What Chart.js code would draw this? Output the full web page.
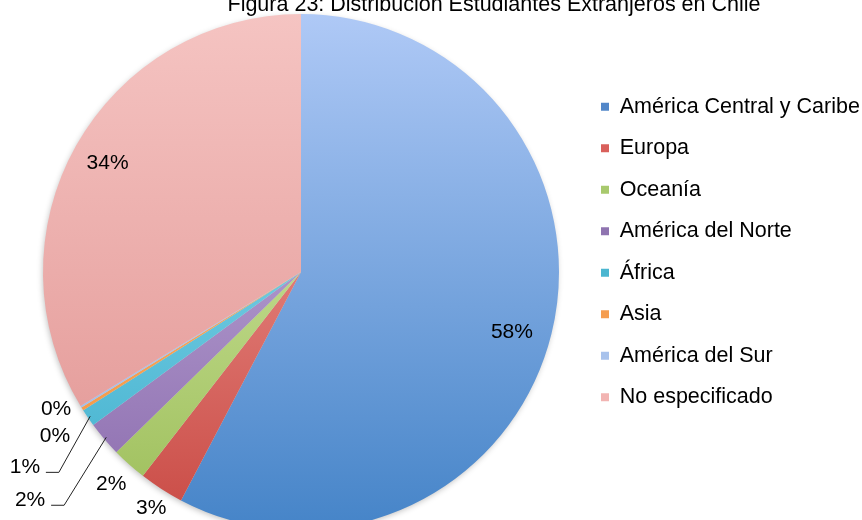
<!DOCTYPE html>
<html>
<head>
<meta charset="utf-8">
<script src="https://cdn.jsdelivr.net/npm/chart.js@4.4.0/dist/chart.umd.min.js"></script>
<style>
  html, body { margin: 0; padding: 0; background: #fff; overflow: hidden; }
  #wrap { width: 862px; height: 520px; position: relative; }
</style>
</head>
<body>
<div id="wrap"><canvas id="pieChart" width="862" height="520"></canvas></div>
<script>
const TITLE = "Figura 23: Distribución Estudiantes Extranjeros en Chile";

const regions = [
    "América Central y Caribe",
    "Europa",
    "Oceanía",
    "América del Norte",
    "África",
    "Asia",
    "América del Sur",
    "No especificado"
];
// porcentaje de estudiantes
const shares = [57.7, 2.8, 2.2, 2.2, 1.1, 0.2, 0.1, 33.7];

// degradado vertical: claro arriba, oscuro abajo
const topColors    = ["#afc9f6", "#f7aba6", "#def3b8", "#cdbde6", "#a0e3f3", "#fbc28a", "#c7dbf8", "#f5c4c2"];
const bottomColors = ["#4584c8", "#c94a44", "#9cbd58", "#8a6aac", "#3caecc", "#f39037", "#98b6e6", "#e19492"];
const legendColors = ["#5287c9", "#d9605b", "#a8c96d", "#8f74b0", "#4bb6d0", "#f59d4f", "#a8c2ec", "#f2b4b2"];

// ubicación de las etiquetas: radio relativo y giro (grados) sobre el ángulo medio
const labelRadius = [0.85, 1.085, 1.105, 1.373, 1.311, 1.088, 1.146, 0.86];
const labelShift  = [2, -0.4, 0, 0.2, -0.9, 2.8, -2.2, 0];
const withLeader  = [false, false, false, true, true, false, false, false];

const PIE_RADIUS = 258;
const FONT = '"Liberation Sans", Arial, Helvetica, sans-serif';

function sliceGradient(context) {
    const chart = context.chart;
    const area = chart.chartArea;
    const i = context.dataIndex;
    if (!area) return legendColors[i];
    const cy = (area.top + area.bottom) / 2;
    const g = chart.ctx.createLinearGradient(0, cy - PIE_RADIUS, 0, cy + PIE_RADIUS);
    g.addColorStop(0, topColors[i]);
    g.addColorStop(1, bottomColors[i]);
    return g;
}

const titlePlugin = {
    id: "cutTitle",
    afterDraw(chart) {
        const ctx = chart.ctx;
        ctx.save();
        ctx.font = "21.5px " + FONT;
        ctx.fillStyle = "#000";
        ctx.textAlign = "center";
        ctx.textBaseline = "alphabetic";
        ctx.fillText(TITLE, 494, 11);
        ctx.restore();
    }
};

const shadowPlugin = {
    id: "pieShadow",
    beforeDatasetsDraw(chart) {
        const arc = chart.getDatasetMeta(0).data[0];
        if (!arc) return;
        const ctx = chart.ctx;
        ctx.save();
        ctx.shadowColor = "rgba(0,0,0,0.28)";
        ctx.shadowBlur = 6;
        ctx.shadowOffsetX = -1;
        ctx.shadowOffsetY = 2;
        ctx.fillStyle = "#d8d8d8";
        ctx.beginPath();
        ctx.arc(arc.x, arc.y, arc.outerRadius - 1, 0, Math.PI * 2);
        ctx.fill();
        ctx.restore();
    }
};

const percentLabels = {
    id: "percentLabels",
    afterDatasetsDraw(chart) {
        const ctx = chart.ctx;
        const data = chart.data.datasets[0].data;
        const total = data.reduce((a, b) => a + b, 0);
        ctx.save();
        ctx.font = "21px " + FONT;
        ctx.fillStyle = "#000";
        ctx.textAlign = "center";
        ctx.textBaseline = "middle";
        chart.getDatasetMeta(0).data.forEach((arc, i) => {
            const {x, y, startAngle, endAngle, outerRadius} = arc.getProps(["x", "y", "startAngle", "endAngle", "outerRadius"], true);
            const mid = (startAngle + endAngle) / 2;
            const a = mid + labelShift[i] * Math.PI / 180;
            const lx = x + Math.cos(a) * outerRadius * labelRadius[i];
            const ly = y + Math.sin(a) * outerRadius * labelRadius[i];
            if (withLeader[i]) {
                ctx.save();
                ctx.strokeStyle = "#222";
                ctx.lineWidth = 1;
                ctx.beginPath();
                ctx.moveTo(x + Math.cos(mid) * outerRadius * 0.99, y + Math.sin(mid) * outerRadius * 0.99);
                ctx.lineTo(lx + 34, ly + 5);
                ctx.lineTo(lx + 21, ly + 5);
                ctx.stroke();
                ctx.restore();
            }
            ctx.fillText(Math.round(data[i] / total * 100) + "%", lx, ly);
        });
        ctx.restore();
    }
};

new Chart(document.getElementById("pieChart").getContext("2d"), {
    type: "pie",
    data: {
        labels: regions,
        datasets: [{
            data: shares,
            backgroundColor: sliceGradient,
            borderWidth: 0,
            radius: PIE_RADIUS,
            clip: false
        }]
    },
    options: {
        responsive: false,
        animation: false,
        layout: { padding: { top: 76, bottom: 52, left: 21, right: 0 } },
        plugins: {
            title: { display: false },
            tooltip: { enabled: false },
            legend: {
                position: "right",
                align: "start",
                maxWidth: 281,
                labels: {
                    boxWidth: 8,
                    boxHeight: 8,
                    padding: 20,
                    color: "#000",
                    font: { size: 21.5, family: FONT },
                    generateLabels(chart) {
                        const items = Chart.overrides.doughnut.plugins.legend.labels.generateLabels(chart);
                        items.forEach((it, i) => {
                            it.fillStyle = legendColors[i];
                            it.strokeStyle = legendColors[i];
                            it.lineWidth = 0;
                        });
                        return items;
                    }
                }
            }
        }
    },
    plugins: [shadowPlugin, percentLabels, titlePlugin]
});
</script>
</body>
</html>
